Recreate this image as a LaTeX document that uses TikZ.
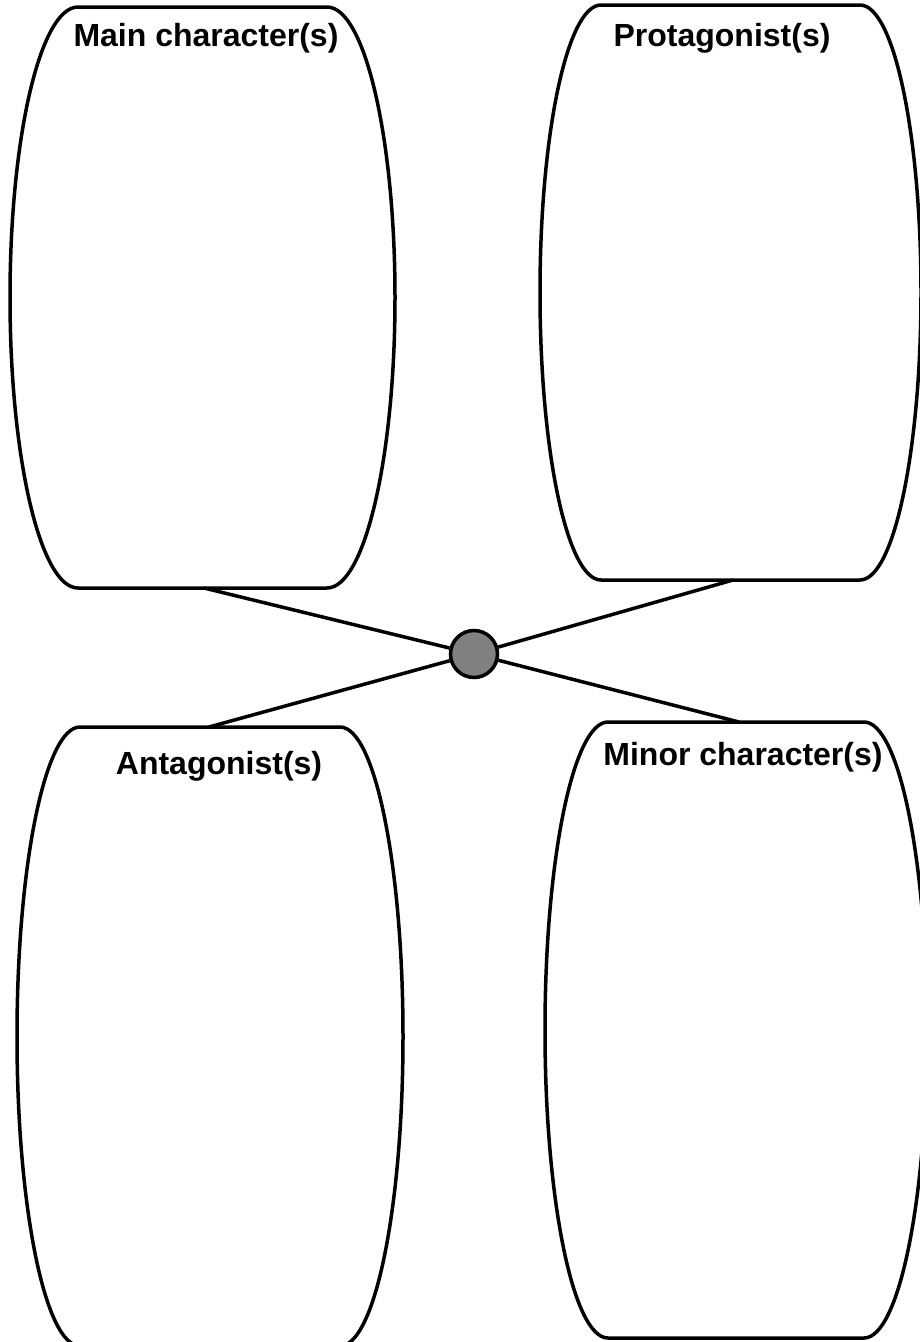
\documentclass[tikz,border=0pt]{standalone}
\usepackage{fontspec}
\setmainfont{Liberation Sans}
\definecolor{hubgray}{HTML}{808080}
\tikzset{
  box/.style={draw=black, line width=3.5pt, line join=round},
  conn/.style={draw=black, line width=3.5pt},
  title/.style={font=\bfseries\fontsize{32}{36}\selectfont, anchor=base, inner sep=0pt},
  hubstyle/.style={circle, draw=black, line width=3.5pt, fill=hubgray, minimum size=47pt, inner sep=0pt}
}
% #1 left vertex x, #2 right vertex x, #3 top y, #4 bottom y, #5 side bulge
\newcommand{\barrelbox}[5]{%
  \draw[box] (#1,#3) -- (#2,#3)
    .. controls ({#2+0.5523*#5},#3) and ({#2+#5},{(#3+#4)/2-0.5523*(#4-#3)/2}) .. ({#2+#5},{(#3+#4)/2})
    .. controls ({#2+#5},{(#3+#4)/2+0.5523*(#4-#3)/2}) and ({#2+0.5523*#5},#4) .. (#2,#4)
    -- (#1,#4)
    .. controls ({#1-0.5523*#5},#4) and ({#1-#5},{(#3+#4)/2+0.5523*(#4-#3)/2}) .. ({#1-#5},{(#3+#4)/2})
    .. controls ({#1-#5},{(#3+#4)/2-0.5523*(#4-#3)/2}) and ({#1-0.5523*#5},#3) .. (#1,#3)
    -- cycle;}
\begin{document}
\begin{tikzpicture}[x=1pt,y=-1pt]
\clip (0,0) rectangle (920,1342);
\fill[white] (0,0) rectangle (920,1342);
% boxes
\barrelbox{78}{327}{7}{588}{68}
\barrelbox{601}{860}{5}{580}{61}
\barrelbox{80}{340}{727}{1346}{63}
\barrelbox{608}{864}{722}{1338}{63}
% titles
\node[title] (tmain) at (206,46) {Main character(s)};
\node[title] (tprot) at (722,46) {Protagonist(s)};
\node[title] (tanta) at (219,774) {Antagonist(s)};
\node[title] (tmin) at (743,765) {Minor character(s)};
% connector ends on the boxes
\coordinate (c1) at (204,588);
\coordinate (c2) at (733,580);
\coordinate (c3) at (209,727);
\coordinate (c4) at (739,722);
% hub
\node[hubstyle] (hub) at (474,654) {};
\draw[conn] (c1) -- (hub);
\draw[conn] (c2) -- (hub);
\draw[conn] (c3) -- (hub);
\draw[conn] (c4) -- (hub);
\end{tikzpicture}
\end{document}
